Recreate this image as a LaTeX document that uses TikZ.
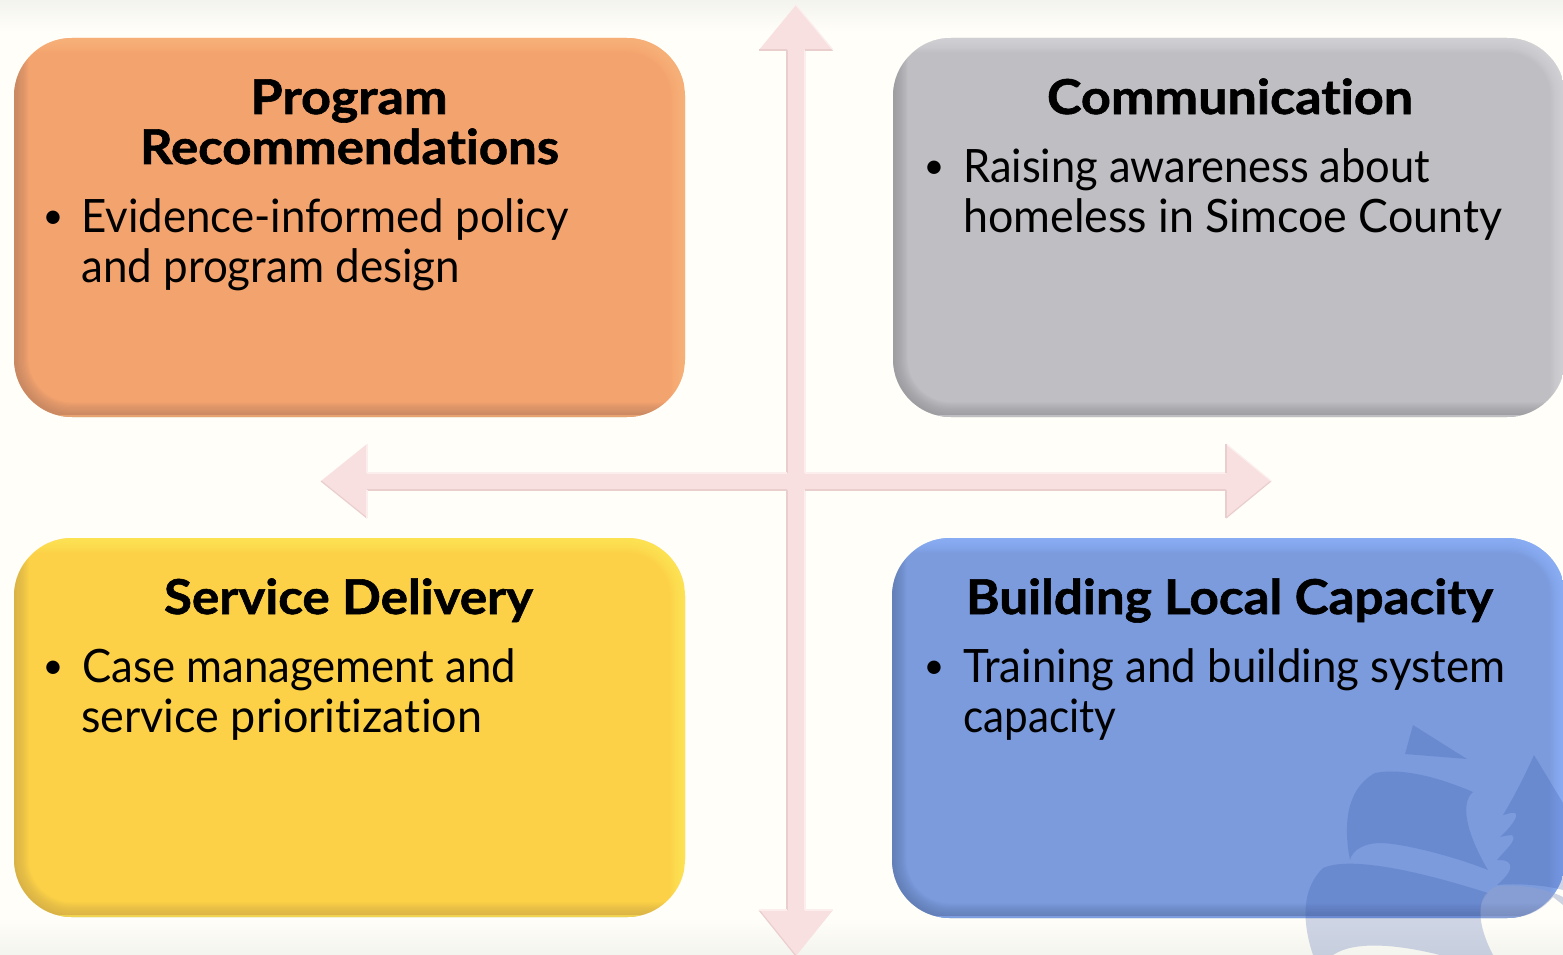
\documentclass[tikz,border=0pt]{standalone}
\usepackage{fontspec}
\usepackage{graphicx}
\setmainfont{Lato}[Ligatures=NoCommon,BoldFeatures={FakeBold=1.2}]
\definecolor{bgc}{RGB}{255,254,248}
\definecolor{bgs}{RGB}{244,244,238}
\definecolor{arr}{RGB}{248,224,224}
\definecolor{arrd}{RGB}{234,206,206}
\definecolor{arrl}{RGB}{253,238,238}
\definecolor{orangeb}{RGB}{243,163,110}
\definecolor{orangel}{RGB}{255,184,128}
\definecolor{oranged}{RGB}{180,125,95}
\definecolor{greyb}{RGB}{190,190,195}
\definecolor{greyl}{RGB}{218,218,222}
\definecolor{greyd}{RGB}{140,140,145}
\definecolor{yellowb}{RGB}{252,209,72}
\definecolor{yellowl}{RGB}{255,236,90}
\definecolor{yellowd}{RGB}{200,165,70}
\definecolor{blueb}{RGB}{123,155,221}
\definecolor{bluel}{RGB}{145,182,255}
\definecolor{blued}{RGB}{90,115,165}
\definecolor{crest}{RGB}{55,85,170}
\definecolor{crestb}{RGB}{149,162,202}
\newcommand{\fitw}[2]{\resizebox{#1pt}{\height}{#2}}
\tikzset{
  titletext/.style={anchor=base,inner sep=0pt,font=\fontsize{48}{50}\selectfont\bfseries,text=black},
  bodytext/.style={anchor=base west,inner sep=0pt,font=\fontsize{46}{50}\selectfont,text=black},
  bullettext/.style={anchor=base,inner sep=0pt,font=\fontsize{36}{36}\selectfont,text=black},
  arrowfill/.style={fill=arr},
  arrowdark/.style={draw=arrd,line width=1.2pt},
  arrowlight/.style={draw=arrl,line width=1.2pt},
}
% name, x1,y1,x2,y2, base, light, dark
\newcommand{\bevelbox}[8]{%
  \begin{scope}
    \clip[rounded corners=58pt] (#2,#3) rectangle (#4,#5);
    \fill[#6] (#2,#3) rectangle (#4,#5);
    \foreach \i in {1,...,12}{
      \pgfmathsetmacro{\wd}{2.4*\i+0.5}
      \draw[#8,opacity=0.07,line width=\wd pt,rounded corners=58pt] (#2,#3) -- (#2,#5) -- (#4,#5);
      \draw[#7,opacity=0.11,line width=\wd pt,rounded corners=58pt] (#2,#3) -- (#4,#3) -- (#4,#5);
    }
    \draw[#7,opacity=0.55,line width=4pt,rounded corners=58pt] (#2,#5) -- (#4,#5);
  \end{scope}
  \node[minimum width={(#4-#2)*1pt},minimum height={(#5-#3)*1pt},inner sep=0pt] (#1) at ({(#2+#4)/2},{(#3+#5)/2}) {};
}
\begin{document}
\begin{tikzpicture}[x=1pt,y=-1pt]
\useasboundingbox (0,0) rectangle (1563,955);
\fill[bgc] (0,0) rectangle (1563,955);
\shade[top color=bgs,bottom color=bgc] (0,0) rectangle (1563,32);
\shade[top color=bgc,bottom color=bgs] (0,918) rectangle (1563,955);
% arrows
\coordinate (vtop) at (796,5);
\coordinate (vbot) at (796,956);
\coordinate (hleft) at (321,481);
\coordinate (hright) at (1271,481);
\fill[arrowfill] (vtop) -- (833,50) -- (805,50) -- (805,910) -- (833,910) -- (vbot) -- (759,910) -- (787,910) -- (787,50) -- (759,50) -- cycle;
\fill[arrowfill] (hleft) -- (367,444) -- (367,473) -- (1226,473) -- (1226,444) -- (hright) -- (1226,518) -- (1226,490) -- (367,490) -- (367,518) -- cycle;
% arrow edges
\draw[arrowdark] (787,50) -- (787,473);
\draw[arrowdark] (787,490) -- (787,910);
\draw[arrowlight] (805,50) -- (805,473);
\draw[arrowlight] (805,490) -- (805,910);
\draw[arrowdark] (759,50) -- (787,50);
\draw[arrowdark] (805,50) -- (833,50);
\draw[arrowlight] (vtop) -- (833,50);
\draw[arrowdark] (759,910) -- (vbot);
\draw[arrowlight] (833,910) -- (805,910);
\draw[arrowlight] (787,910) -- (759,910);
\draw[arrowdark] (367,490) -- (787,490);
\draw[arrowdark] (805,490) -- (1226,490);
\draw[arrowlight] (367,473) -- (787,473);
\draw[arrowlight] (805,473) -- (1226,473);
\draw[arrowdark] (hleft) -- (367,518);
\draw[arrowlight] (367,444) -- (367,473);
\draw[arrowlight] (367,490) -- (367,518);
\draw[arrowdark] (1226,518) -- (hright);
\draw[arrowlight] (1226,444) -- (hright);
\draw[arrowdark] (1226,444) -- (1226,473);
\draw[arrowdark] (1226,490) -- (1226,518);
% boxes
\bevelbox{orangebox}{14}{38}{685}{417}{orangeb}{orangel}{oranged}
\bevelbox{greybox}{893}{38}{1565}{417}{greyb}{greyl}{greyd}
\bevelbox{yellowbox}{14}{538}{685}{917}{yellowb}{yellowl}{yellowd}
\bevelbox{bluebox}{892}{538}{1565}{918}{blueb}{bluel}{blued}
% crest
\begin{scope}[fill=crest,opacity=0.24]
\fill (1413,725) -- (1467,759) -- (1405,754) -- cycle;
\fill (1350,860) .. controls (1344,830) and (1344,790) .. (1375,773) .. controls (1405,767) and (1445,780) .. (1473,792) .. controls (1458,805) and (1470,840) .. (1488,870) .. controls (1450,855) and (1400,843) .. (1380,843) .. controls (1365,843) and (1352,850) .. cycle;
\fill (1313,955) .. controls (1303,925) and (1300,890) .. (1323,868) .. controls (1345,858) and (1400,865) .. (1488,893) .. controls (1475,905) and (1480,930) .. (1493,955) -- (1440,955) .. controls (1400,945) and (1355,940) .. (1333,955) -- cycle;
\fill (1534,755) -- (1563,803) -- (1563,890) .. controls (1545,885) and (1515,883) .. (1497,885) .. controls (1505,878) and (1515,868) .. (1508,862) .. controls (1505,860) and (1500,860) .. (1497,860) .. controls (1505,850) and (1518,840) .. (1512,835) .. controls (1508,835) and (1505,836) .. (1500,837) .. controls (1510,828) and (1520,815) .. (1515,813) .. controls (1512,812) and (1508,814) .. (1503,815) .. controls (1515,795) and (1525,775) .. cycle;
\end{scope}
\fill[crestb,opacity=0.45] (1481,918) .. controls (1479,905) and (1482,892) .. (1497,886) .. controls (1520,884) and (1545,888) .. (1563,897) -- (1563,905) -- (1553,897) .. controls (1540,912) and (1525,918) .. (1506,918) -- cycle;
% text
\node[titletext] (t1a) at (349,114) {\fitw{197}{Program}};
\node[titletext] (t1b) at (349.5,164) {\fitw{419}{Recommendations}};
\node[bullettext] (b1) at (53,228) {•};
\node[bodytext] (l1a) at (81,232) {\fitw{488}{Evidence-informed policy}};
\node[bodytext] (l1b) at (81,282) {\fitw{379}{and program design}};
\node[titletext] (t2) at (1230,114) {\fitw{366}{Communication}};
\node[bullettext] (b2) at (934,178) {•};
\node[bodytext] (l2a) at (963,182) {\fitw{467}{Raising awareness about}};
\node[bodytext] (l2b) at (963,232) {\fitw{539}{homeless in Simcoe County}};
\node[titletext] (t3) at (348.5,614) {\fitw{369}{Service Delivery}};
\node[bullettext] (b3) at (53,678) {•};
\node[bodytext] (l3a) at (82,682) {\fitw{434}{Case management and}};
\node[bodytext] (l3b) at (81,732) {\fitw{401}{service prioritization}};
\node[titletext] (t4) at (1229.5,614) {\fitw{527}{Building Local Capacity}};
\node[bullettext] (b4) at (934,678) {•};
\node[bodytext] (l4a) at (963,682) {\fitw{542}{Training and building system}};
\node[bodytext] (l4b) at (963,732) {\fitw{153}{capacity}};
\end{tikzpicture}
\end{document}
